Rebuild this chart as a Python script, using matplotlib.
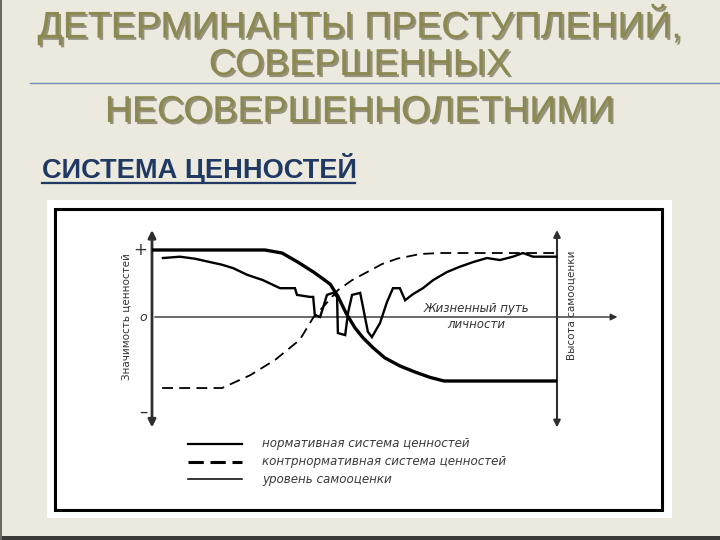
import matplotlib
matplotlib.use("Agg")
import matplotlib.pyplot as plt
import matplotlib.patheffects as pe
from matplotlib.patches import Rectangle, FancyArrowPatch

# ---------------- data ----------------
title_lines = ["ДЕТЕРМИНАНТЫ ПРЕСТУПЛЕНИЙ,", "СОВЕРШЕННЫХ", "НЕСОВЕРШЕННОЛЕТНИМИ"]
subtitle = "СИСТЕМА ЦЕННОСТЕЙ"
y_label = "Значимость ценностей"
y2_label = "Высота самооценки"
x_label = "Жизненный путь\nличности"
y_ticks = ["+", "o", "–"]
legend_labels = ["нормативная система ценностей",
                 "контрнормативная система ценностей",
                 "уровень самооценки"]

# normative value system (thick solid)
norm_x = [0, 27.9, 32.1, 36.0, 39.9, 42.2, 44.0, 45.9, 47.9, 50.1, 52.1, 54.6,
          57.5, 61.2, 64.9, 68.6, 72.1, 100]
norm_y = [1.0, 1.0, 0.955, 0.82, 0.67, 0.57, 0.49, 0.31, 0.06, -0.16, -0.31,
          -0.46, -0.61, -0.73, -0.82, -0.90, -0.955, -0.955]

# counter-normative value system (dashed)
cnorm_x = [2.5, 17.3, 24.2, 30.4, 36.5, 39.8, 42.7, 45.9, 49.4, 53.1, 56.8,
           60.5, 66.2, 71.1, 100]
cnorm_y = [-1.06, -1.06, -0.87, -0.64, -0.34, -0.01, 0.18, 0.40, 0.55, 0.67,
           0.79, 0.87, 0.94, 0.955, 0.955]

# self-esteem level (jagged)
self_x = [2.7, 6.9, 10.6, 14.3, 17.3, 20.0, 23.5, 27.4, 31.6, 35.3, 35.8, 39.0,
          39.8, 40.2, 41.5, 42.2, 43.2, 44.7, 45.7, 45.9, 47.7, 48.4, 49.4, 51.4,
          52.1, 53.3, 54.3, 56.3, 58.0, 59.5, 61.2, 62.5, 64.4, 66.9, 69.4, 72.8,
          76.0, 79.3, 82.7, 85.9, 89.1, 91.6, 94.1, 96.5, 99.8]
self_y = [0.88, 0.90, 0.87, 0.82, 0.78, 0.73, 0.63, 0.55, 0.43, 0.43, 0.33, 0.30,
          0.30, 0.03, 0.0, 0.13, 0.33, 0.36, 0.30, -0.24, -0.27, 0.06, 0.33, 0.36,
          0.15, -0.22, -0.30, -0.09, 0.22, 0.43, 0.43, 0.25, 0.34, 0.43, 0.55, 0.67,
          0.75, 0.82, 0.88, 0.85, 0.90, 0.955, 0.90, 0.90, 0.90]

# ---------------- figure ----------------
fig = plt.figure(figsize=(7.2, 5.4), dpi=100)
fig.patch.set_facecolor("#ece9de")

# slide background details
fig.add_artist(Rectangle((0, 0), 1, 4 / 540, transform=fig.transFigure,
                         facecolor="#3a3a36", edgecolor="none", zorder=-5))
fig.add_artist(Rectangle((0, 0), 2 / 720, 1, transform=fig.transFigure,
                         facecolor="#6b6a60", edgecolor="none", zorder=-5))
fig.add_artist(plt.Line2D([30 / 720, 1], [1 - 83 / 540, 1 - 83 / 540],
                          transform=fig.transFigure, color="#6f8db5", lw=1.0,
                          zorder=-5))

title_color = "#8b894f"
for txt, ypx in zip(title_lines, [24, 65, 112]):
    t = fig.text(0.5, 1 - ypx / 540, txt, ha="center", va="center",
                 fontsize=27, color=title_color,
                 family=["Liberation Sans", "DejaVu Sans"])
    t.set_path_effects([pe.SimplePatchShadow(offset=(1.5, -1.5),
                                             shadow_rgbFace="#3f3a22", alpha=0.5),
                        pe.Normal()])

fig.text(42 / 720, 1 - 169 / 540, subtitle, ha="left", va="center",
         fontsize=19.6, color="#1f3864", fontweight="bold",
         family=["Liberation Sans", "DejaVu Sans"])
fig.add_artist(plt.Line2D([42 / 720, 355 / 720], [1 - 183 / 540, 1 - 183 / 540],
                          transform=fig.transFigure, color="#1f3864", lw=1.6))

# white picture panel with black frame (behind the chart axes)
fig.add_artist(Rectangle((47 / 720, 1 - 518 / 540), 625 / 720, 318 / 540,
                         transform=fig.transFigure, facecolor="white",
                         edgecolor="none", zorder=-3))
fig.add_artist(Rectangle((55 / 720, 1 - 510 / 540), 607 / 720, 301 / 540,
                         transform=fig.transFigure, facecolor="none",
                         edgecolor="black", lw=2.2, zorder=-2))

# ---------------- chart axes (life path 0..100) ----------------
ax = fig.add_axes([0, 0, 1, 1], zorder=1)
ax.set_xlim(-37.53, 140.25)
ax.set_ylim(-3.328, 4.731)
ax.axis("off")
ax.patch.set_alpha(0)

axis_col = "#2e2e2e"
# left vertical axis (double arrow)
ax.add_patch(FancyArrowPatch((0, -1.69), (0, 1.34), arrowstyle="<|-|>",
                             mutation_scale=11, color=axis_col, lw=2.0))
# right vertical axis (double arrow)
ax.add_patch(FancyArrowPatch((100, -1.69), (100, 1.34), arrowstyle="<|-|>",
                             mutation_scale=10, color=axis_col, lw=1.5))
# horizontal life-path axis
ax.add_patch(FancyArrowPatch((0, 0), (115.6, 0), arrowstyle="-|>",
                             mutation_scale=10, color=axis_col, lw=1.0))

# labels on the left axis
for val, lab in zip([1.0, 0.0, -1.42], y_ticks):
    ax.text(-1.2, val, lab, ha="right", va="center",
            fontsize=12 if lab != "o" else 9,
            style="italic" if lab == "o" else "normal", color="#333333")

ax.text(-6.2, 0.0, y_label, rotation=90, ha="center", va="center",
        fontsize=7.5, color="#333333")
ax.text(103.6, 0.18, y2_label, rotation=90, ha="center", va="center",
        fontsize=7.5, color="#333333")
ax.text(80.0, 0.01, x_label, ha="center", va="center", fontsize=8.5,
        style="italic", color="#333333", linespacing=1.35)

# curves
ax.plot(norm_x, norm_y, color="black", lw=2.4, solid_capstyle="butt")
ax.plot(cnorm_x, cnorm_y, color="black", lw=1.3, dashes=(6, 3.5))
ax.plot(self_x, self_y, color="black", lw=1.7, solid_joinstyle="miter")

# legend (drawn in figure pixels)
leg_rows = [444, 462, 479]
leg_styles = [dict(lw=1.6), dict(lw=2.2, dashes=(5, 2.2)), dict(lw=1.1)]
for ypx, lab, st in zip(leg_rows, legend_labels, leg_styles):
    fig.add_artist(plt.Line2D([188 / 720, 242 / 720], [1 - ypx / 540, 1 - ypx / 540],
                              transform=fig.transFigure, color="black", **st))
    fig.text(262 / 720, 1 - ypx / 540, lab, ha="left", va="center", fontsize=8.6,
             style="italic", color="#3a3a3a")

fig.savefig("out.png", dpi=100, facecolor=fig.get_facecolor())
